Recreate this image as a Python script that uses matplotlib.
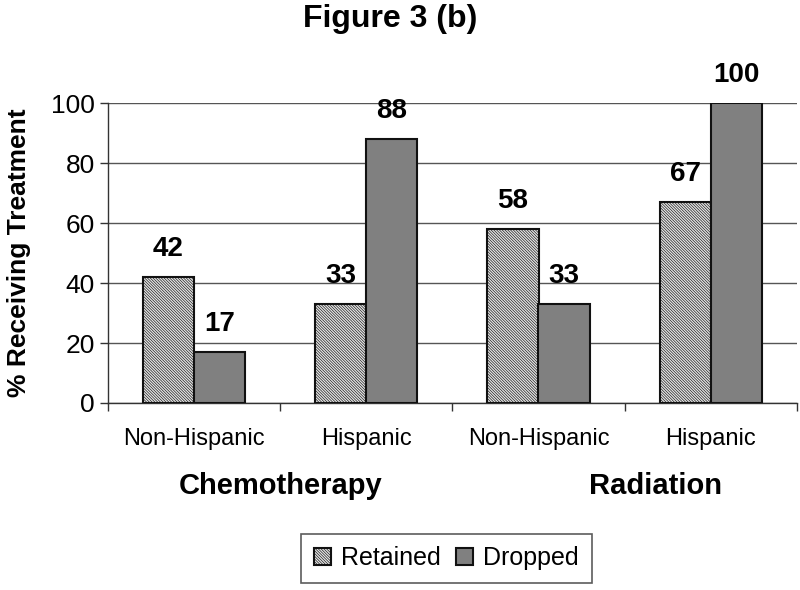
import numpy as np
import matplotlib
matplotlib.use("Agg")
import matplotlib.pyplot as plt

plt.rcParams['font.family'] = ['Liberation Sans', 'DejaVu Sans']
plt.rcParams['hatch.color'] = '#7a7a7a'
plt.rcParams['hatch.linewidth'] = 0.45

# --- dados ---
categorias = ['Non-Hispanic', 'Hispanic', 'Non-Hispanic', 'Hispanic']
grupos = ['Chemotherapy', 'Radiation']
retained = [42, 33, 58, 67]
dropped = [17, 88, 33, 100]
y_ticks = [0, 20, 40, 60, 80, 100]

fig = plt.figure(figsize=(8, 5.9), dpi=100)
ax = fig.add_axes([0.135, 0.317, 0.861, 0.508])

x = np.arange(len(categorias))
w = 0.297

b1 = ax.bar(x - w / 2, retained, w, facecolor='#e4e4e4', edgecolor='#111111',
            hatch='\\' * 12, linewidth=1.5, label='Retained', zorder=3)
b2 = ax.bar(x + w / 2, dropped, w, facecolor='#808080', edgecolor='#111111',
            linewidth=1.5, label='Dropped', zorder=3)

for barras, vals in [(b1, retained), (b2, dropped)]:
    for b, v in zip(barras, vals):
        ax.text(b.get_x() + b.get_width() / 2, v + 5, str(v), ha='center', va='bottom',
                fontsize=20, fontweight='bold')

ax.set_xlim(-0.5, len(categorias) - 0.5)
ax.set_ylim(0, 100)
ax.set_yticks(y_ticks)
ax.tick_params(axis='y', labelsize=19, length=6, width=1, direction='out', color='#333333')
ax.yaxis.grid(True, color='#555555', linewidth=1, zorder=0)
ax.set_axisbelow(True)

# separadores de categoria no eixo x
ax.set_xticks(np.arange(len(categorias) + 1) - 0.5)
ax.set_xticklabels([])
ax.tick_params(axis='x', length=6, width=1, color='#333333')
ax.set_xticks(x, minor=True)
ax.set_xticklabels(categorias, minor=True, fontsize=17)
ax.tick_params(axis='x', which='minor', length=0, pad=18)

for s in ['top', 'right']:
    ax.spines[s].set_visible(False)
for s in ['left', 'bottom']:
    ax.spines[s].set_color('#333333')
    ax.spines[s].set_linewidth(1)

ax.text(0.5, -0.23, grupos[0], transform=ax.get_xaxis_transform(), ha='center', va='top',
        fontsize=21, fontweight='bold')
ax.text(2.68, -0.23, grupos[1], transform=ax.get_xaxis_transform(), ha='center', va='top',
        fontsize=21, fontweight='bold')

ax.set_ylabel('% Receiving Treatment', fontsize=19, fontweight='bold', labelpad=14)
fig.suptitle('Figure 3 (b)', x=0.488, y=0.993, fontsize=23, fontweight='bold')

leg = fig.legend(handles=[b1, b2], loc='center', bbox_to_anchor=(0.558, 0.054), ncol=2,
                 fontsize=18, frameon=True, fancybox=False, edgecolor='#333333',
                 handlelength=0.7, handleheight=0.7, handletextpad=0.4, columnspacing=0.6,
                 borderpad=0.5)
leg.get_frame().set_linewidth(1.2)

fig.savefig('out.png', dpi=100)
